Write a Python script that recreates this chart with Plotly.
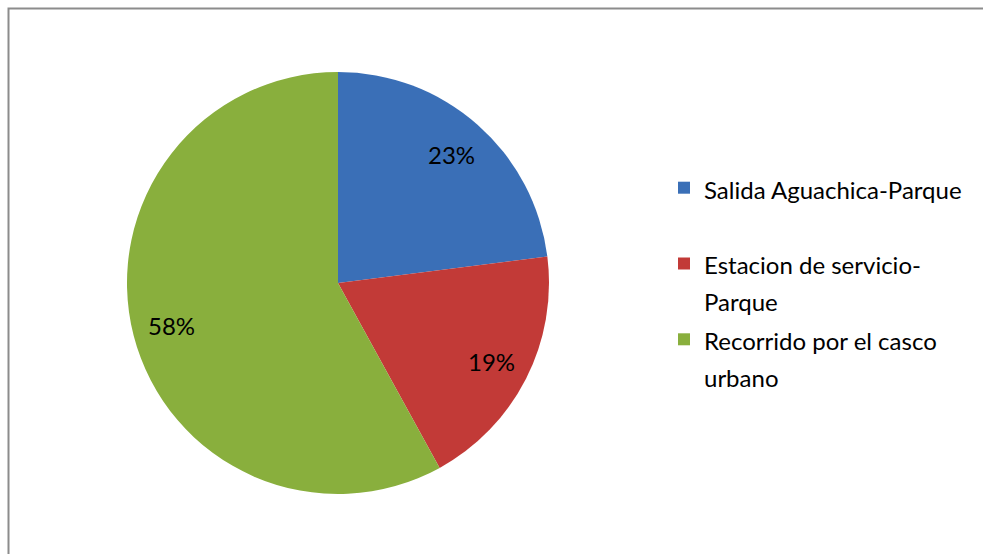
import math
import plotly.graph_objects as go

labels = ["Salida Aguachica-Parque", "Estacion de servicio-<br>Parque", "Recorrido por el casco<br>urbano"]
values = [23, 19, 58]
colors = ["#3A6FB7", "#C23A37", "#89AF3D"]

W, H = 983, 554
cx, cy, r = 338, 283, 211
FONT = "Lato, Carlito, Calibri, sans-serif"

# legend text: item 1 padded to two lines so every entry has the same height
legend_text = []
for lab in labels:
    t = lab if "<br>" in lab else lab + "<br> "
    legend_text.append('<span style="font-size:24px">' + t.replace("<br>", '</span><br><span style="font-size:24px">') + "</span>")

fig = go.Figure(go.Pie(
    labels=legend_text,
    values=values,
    sort=False,
    direction="clockwise",
    rotation=0,
    marker=dict(colors=colors, line=dict(width=0)),
    textinfo="none",
    domain=dict(x=[(cx - r) / W, (cx + r) / W], y=[(H - cy - r) / H, (H - cy + r) / H]),
    hoverinfo="percent",
))

# percentage labels placed along each slice's mid-angle (derived from the values)
total = sum(values)
annotations = []
cum = 0
for v in values:
    mid = (cum + v / 2) / total * 2 * math.pi
    cum += v
    rl = 0.815 * r
    px = cx + rl * math.sin(mid)
    py = cy - rl * math.cos(mid)
    annotations.append(dict(
        x=px / W, y=1 - py / H, xref="paper", yref="paper",
        text=f"{round(v / total * 100)}%", showarrow=False,
        xanchor="center", yanchor="middle",
        font=dict(family=FONT, size=24, color="#000000"),
    ))

fig.update_layout(
    width=W, height=H,
    margin=dict(l=0, r=0, t=0, b=0),
    paper_bgcolor="#FFFFFF",
    plot_bgcolor="#FFFFFF",
    showlegend=True,
    annotations=annotations,
    legend=dict(
        x=664 / W, y=1 - 163 / H, xanchor="left", yanchor="top",
        font=dict(family=FONT, size=28, color="#000000"),
        valign="top",
    ),
    shapes=[dict(type="rect", xref="paper", yref="paper",
                 x0=8.5 / W, x1=1.02, y0=-0.02, y1=1 - 8.5 / H,
                 line=dict(color="#8C8C8C", width=2))],
)

fig.write_html("out.html")
